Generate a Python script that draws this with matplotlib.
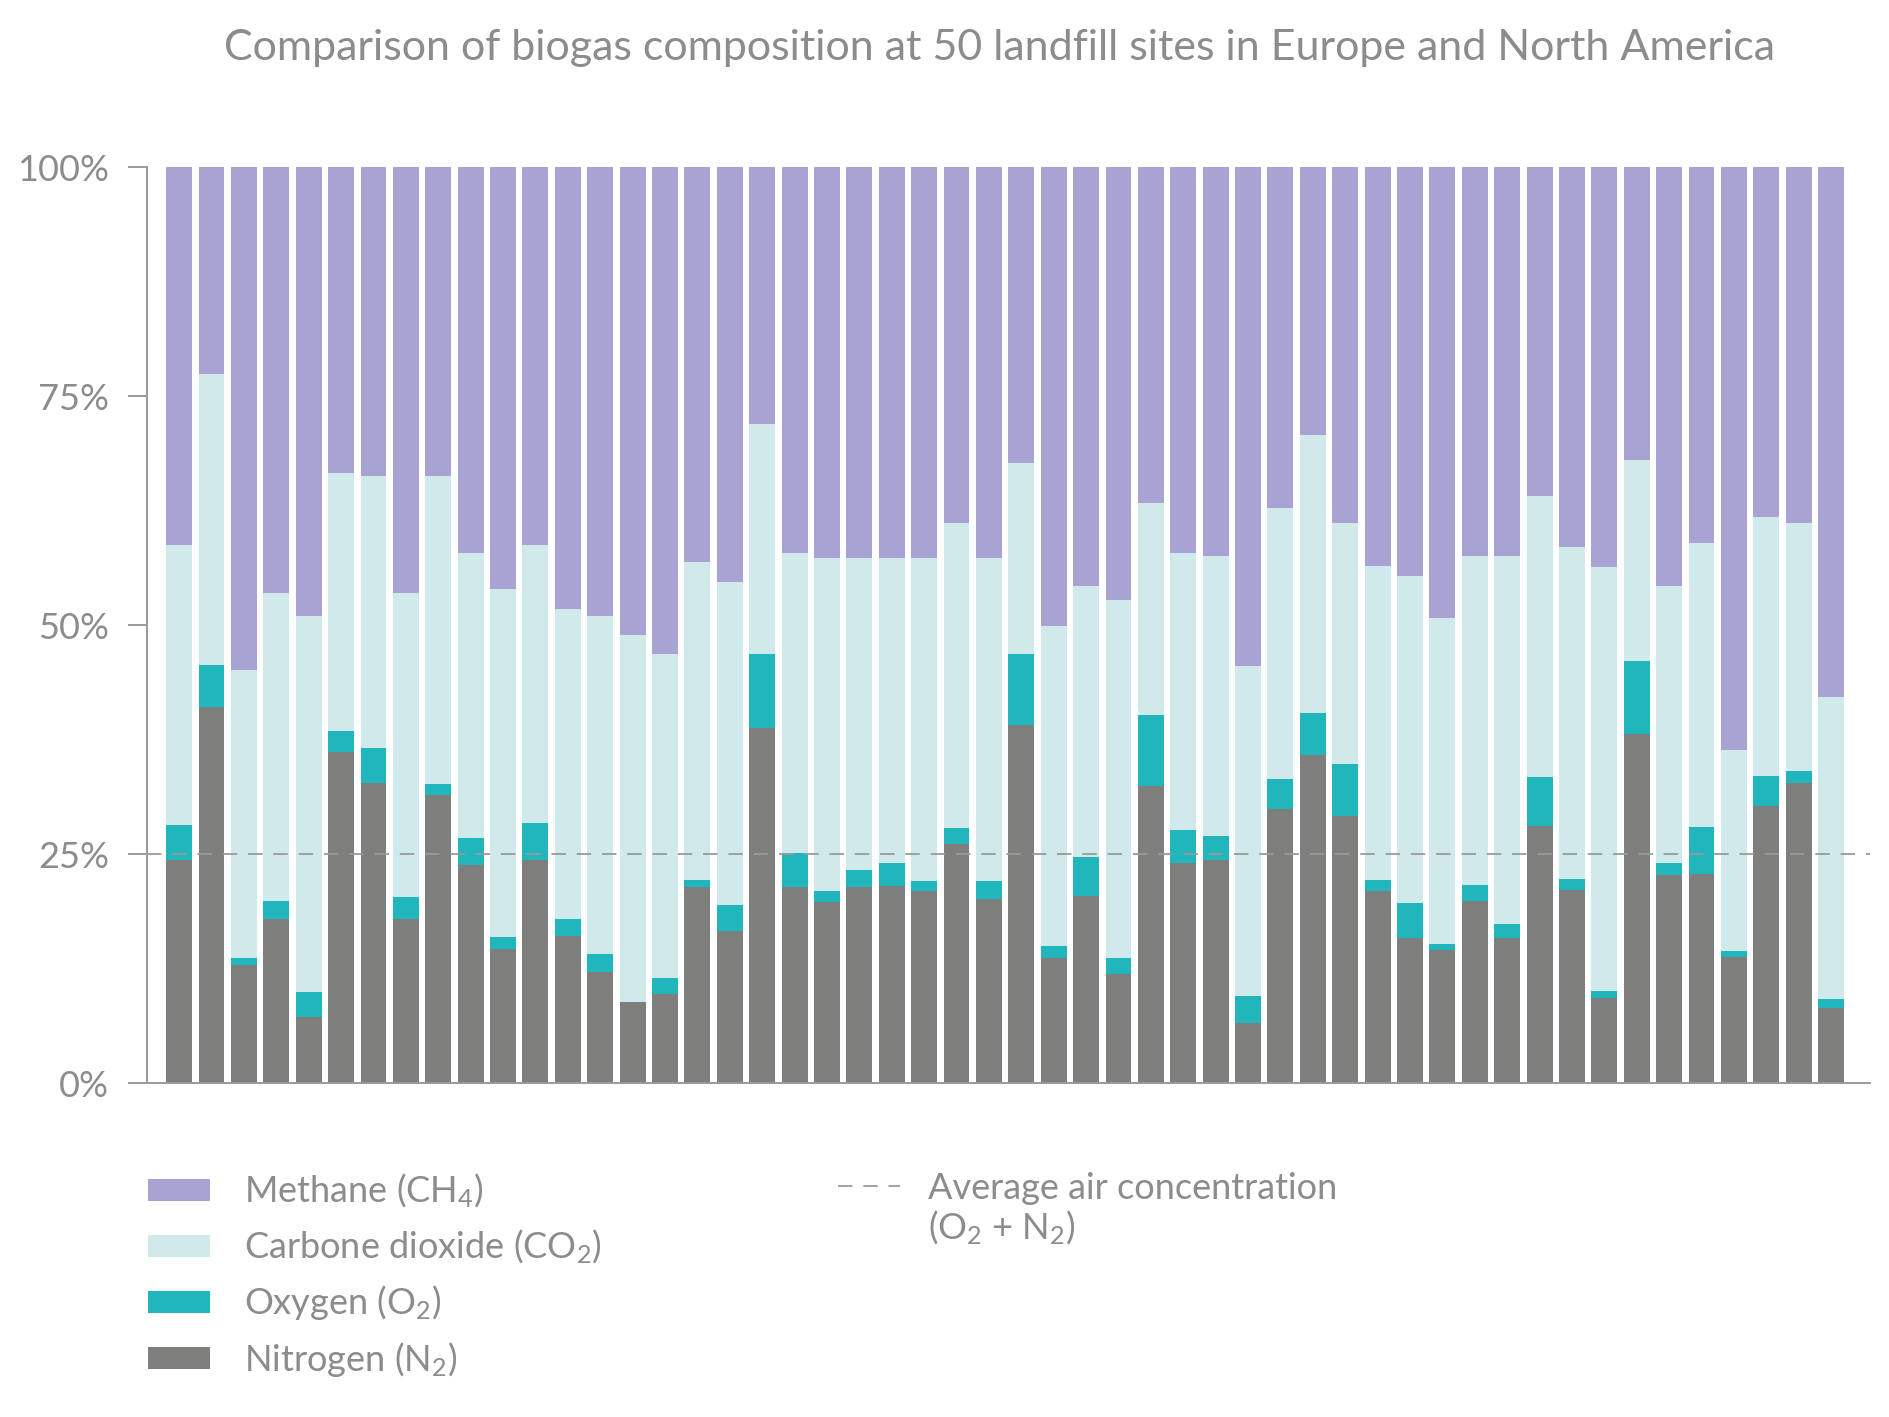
import matplotlib
matplotlib.use("Agg")
import matplotlib.pyplot as plt
from matplotlib.patches import Patch
from matplotlib.lines import Line2D

plt.rcParams['font.family'] = ['Lato', 'DejaVu Sans']
plt.rcParams['font.weight'] = 'normal'
plt.rcParams['mathtext.default'] = 'regular'

title = "Comparison of biogas composition at 50 landfill sites in Europe and North America"

nitrogen = [24.4, 41.1, 12.9, 17.9, 7.2, 36.1, 32.8, 17.9, 31.4, 23.8,
            14.6, 24.4, 16.1, 12.1, 8.8, 9.7, 21.4, 16.6, 38.8, 21.4,
            19.8, 21.4, 21.5, 21.0, 26.1, 20.1, 39.1, 13.7, 20.4, 11.9,
            32.4, 24.0, 24.4, 6.5, 29.9, 35.8, 29.1, 21.0, 15.8, 14.5,
            19.9, 15.8, 28.1, 21.1, 9.3, 38.1, 22.7, 22.8, 13.8, 30.2,
            32.8, 8.2]
oxygen = [3.8, 4.5, 0.7, 2.0, 2.7, 2.3, 3.8, 2.4, 1.2, 3.0,
          1.3, 4.0, 1.8, 2.0, 0.0, 1.8, 0.8, 2.8, 8.0, 3.7,
          1.2, 1.9, 2.5, 1.1, 1.7, 2.0, 7.7, 1.3, 4.3, 1.8,
          7.8, 3.6, 2.6, 3.0, 3.3, 4.6, 5.7, 1.2, 3.9, 0.7,
          1.7, 1.6, 5.3, 1.2, 0.7, 8.0, 1.3, 5.2, 0.6, 3.3,
          1.3, 1.0]
carbon_dioxide = [30.5, 31.8, 31.5, 33.6, 41.1, 28.2, 29.7, 33.2, 33.7, 31.1,
                  38.0, 30.3, 33.9, 36.9, 40.1, 35.3, 34.7, 35.3, 25.2, 32.8,
                  36.3, 34.0, 33.3, 35.2, 33.3, 35.2, 20.9, 34.9, 29.6, 39.0,
                  23.1, 30.3, 30.5, 36.0, 29.6, 30.4, 26.3, 34.2, 35.6, 35.6,
                  35.9, 40.1, 30.7, 36.2, 46.3, 21.9, 30.3, 31.0, 22.0, 28.3,
                  27.0, 32.9]
methane = [41.3, 22.6, 54.9, 46.5, 49.0, 33.4, 33.7, 46.5, 33.7, 42.1,
           46.1, 41.3, 48.2, 49.0, 51.1, 53.2, 43.1, 45.3, 28.0, 42.1,
           42.7, 42.7, 42.7, 42.7, 38.9, 42.7, 32.3, 50.1, 45.7, 47.3,
           36.7, 42.1, 42.5, 54.5, 37.2, 29.2, 38.9, 43.6, 44.7, 49.2,
           42.5, 42.5, 35.9, 41.5, 43.7, 32.0, 45.7, 41.0, 63.6, 38.2,
           38.9, 57.9]
air_level = 25
y_ticks = [0, 25, 50, 75, 100]
y_tick_labels = ["0%", "25%", "50%", "75%", "100%"]

labels = ["Methane (CH$_4$)", "Carbone dioxide (CO$_2$)", "Oxygen (O$_2$)", "Nitrogen (N$_2$)"]
air_label_1 = "Average air concentration"
air_label_2 = "(O$_2$ + N$_2$)"

c_ch4 = "#A9A3D3"
c_co2 = "#D0EAEC"
c_o2 = "#20B6BB"
c_n2 = "#7E7E7C"
c_text = "#8C8C8C"
c_axis = "#9A9A9A"

W, H = 1890, 1417
fig = plt.figure(figsize=(18.9, 14.17), dpi=100)
ax = fig.add_axes([0.0778, 0.2357, 0.9116, 0.6464])

x = list(range(len(nitrogen)))
w = 0.8
b1 = nitrogen
b2 = [a + b for a, b in zip(b1, oxygen)]
b3 = [a + b for a, b in zip(b2, carbon_dioxide)]
ax.bar(x, nitrogen, width=w, color=c_n2, linewidth=0)
ax.bar(x, oxygen, width=w, bottom=b1, color=c_o2, linewidth=0)
ax.bar(x, carbon_dioxide, width=w, bottom=b2, color=c_co2, linewidth=0)
ax.bar(x, methane, width=w, bottom=b3, color=c_ch4, linewidth=0)

ax.axhline(air_level, color=c_axis, linewidth=1.3, dashes=(8, 6), zorder=3)

ax.set_xlim(-0.99, len(x) + 0.2)
ax.set_ylim(0, 100)
ax.set_xticks([])
ax.set_yticks(y_ticks)
ax.set_yticklabels(y_tick_labels)
ax.tick_params(axis='y', direction='out', length=13.5, width=1.4, color=c_axis,
               labelcolor=c_text, labelsize=26, pad=14)
for s in ['top', 'right']:
    ax.spines[s].set_visible(False)
for s in ['left', 'bottom']:
    ax.spines[s].set_color(c_axis)
    ax.spines[s].set_linewidth(1.4)

fig.text(0.529, 1 - 48 / H, title, ha='center', va='center', fontsize=31, color=c_text)

handles = [Patch(facecolor=c) for c in [c_ch4, c_co2, c_o2, c_n2]]
leg1 = fig.legend(handles, labels, loc='upper left', bbox_to_anchor=(148 / W, 1 - 1172 / H),
                  frameon=False, fontsize=26, handlelength=1.72, handleheight=0.57,
                  handletextpad=0.94, labelspacing=0.48, borderpad=0, borderaxespad=0,
                  labelcolor=c_text)
leg2 = fig.legend([Line2D([0], [0], color=c_axis, linewidth=1.3, dashes=(8, 6))], [air_label_1],
                  loc='upper left', bbox_to_anchor=(838 / W, 1 - 1172 / H),
                  frameon=False, fontsize=26, handlelength=1.72, handletextpad=0.78,
                  borderpad=0, borderaxespad=0, labelcolor=c_text)

fig.canvas.draw()
bb = leg2.get_texts()[0].get_window_extent()
x0 = bb.x0 / W
fig.text(x0, 1 - 1228 / H, air_label_2, ha='left', va='center', fontsize=26, color=c_text)

fig.savefig("out.png", dpi=100, facecolor="white")
